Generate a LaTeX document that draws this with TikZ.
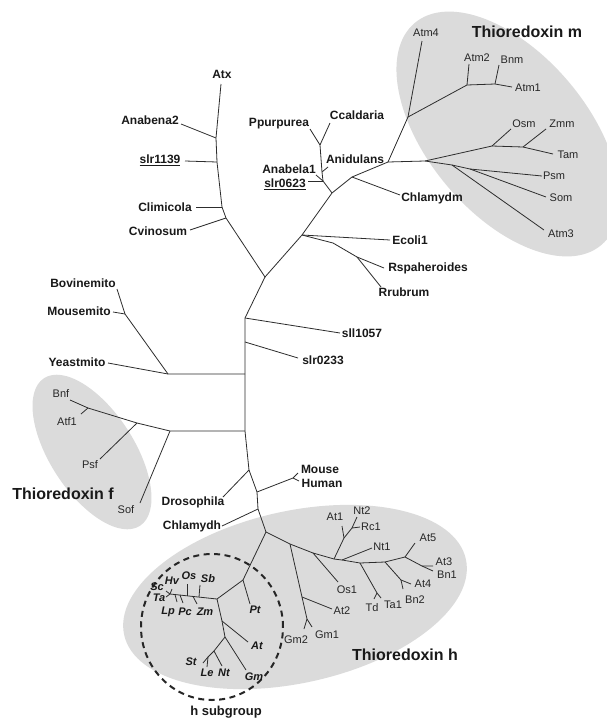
\documentclass[tikz,border=0pt]{standalone}
\usepackage{fontspec}
\setmainfont{Liberation Sans}
\definecolor{grp}{RGB}{219,219,219}
\definecolor{lnc}{RGB}{45,45,45}
\begin{document}
\begin{tikzpicture}[x=1pt,y=-1pt,
  br/.style={draw=lnc, line width=0.8pt},
  lb/.style={font=\fontsize{12}{14}\selectfont\bfseries, inner sep=0pt, text=black!90},
  ln/.style={font=\fontsize{11}{13}\selectfont, inner sep=0pt, text=black!85},
  li/.style={font=\fontsize{11}{13}\selectfont\bfseries\itshape, inner sep=0pt, text=black!90},
  big/.style={font=\fontsize{16}{19}\selectfont\bfseries, inner sep=0pt, text=black!90},
  dsh/.style={draw=black!85, line width=2pt, dash pattern=on 6pt off 4.5pt}]
\useasboundingbox (0,0) rectangle (607,718);
\clip (0,0) rectangle (607,718);
\fill[white] (0,0) rectangle (607,718);
% group shading
\fill[grp, rotate around={-50:(508,134)}] (508,134) ellipse [x radius=145pt, y radius=80pt];
\fill[grp, rotate around={-57:(92,452)}] (92,452) ellipse [x radius=88pt, y radius=42pt];
\fill[grp, rotate around={12.5:(295,597)}] (295,597) ellipse [x radius=175pt, y radius=86pt];
\draw[dsh] (212,627) ellipse [x radius=71pt, y radius=73pt];
% ---------- coordinates ----------
\coordinate (atx) at (221,84);
\coordinate (jana2) at (216,138);
\coordinate (jslr) at (217,162);
\coordinate (jcli) at (222,207);
\coordinate (jcvi) at (226,218);
\coordinate (jA) at (265,277);
\coordinate (jeco) at (302,235);
\coordinate (jcy) at (332,193);
\coordinate (jan2) at (323,181);
\coordinate (jan1) at (322,172);
\coordinate (jpc) at (320,145);
\coordinate (jch) at (352,177);
\coordinate (jm) at (388,162);
\coordinate (tana2) at (181,124);
\coordinate (tslr) at (185,161);
\coordinate (tcli) at (196,207);
\coordinate (tcvi) at (190,230);
\coordinate (tppu) at (310,129);
\coordinate (tcca) at (330,123);
\coordinate (tanid) at (328,167);
\coordinate (tanab) at (316,175);
\coordinate (tslrb) at (308,181);
\coordinate (tchm) at (400,195);
% m group
\coordinate (jm4) at (408,117);
\coordinate (tatm4) at (422,41);
\coordinate (ja2) at (467,85);
\coordinate (tatm2) at (469,64);
\coordinate (jbn) at (495,84);
\coordinate (tbnm) at (499,65);
\coordinate (tatm1) at (512,87);
\coordinate (jmm) at (425,161);
\coordinate (jos) at (492,146);
\coordinate (tosm) at (511,129);
\coordinate (jzm) at (523,147);
\coordinate (tzmm) at (546,129);
\coordinate (ttam) at (553,154);
\coordinate (jp1) at (452,165);
\coordinate (jp2) at (470,169);
\coordinate (tpsm) at (542,176);
\coordinate (tsom) at (546,197);
\coordinate (tatm3) at (544,230);
% Ecoli
\coordinate (teco) at (390,240);
\coordinate (jr1) at (333,243);
\coordinate (jr2) at (357,257);
\coordinate (trsp) at (384,268);
\coordinate (trru) at (381,287);
% left part
\coordinate (js) at (245,318);
\coordinate (tsll) at (340,333);
\coordinate (js2) at (245,342);
\coordinate (tslrc) at (298,358);
\coordinate (jy) at (245,374);
\coordinate (jmito) at (168,374);
\coordinate (tyea) at (108,363);
\coordinate (jbm) at (125,314);
\coordinate (tbov) at (117,289);
\coordinate (tmou) at (113,312);
\coordinate (jf) at (245,431);
\coordinate (jfr) at (170,431);
\coordinate (jpf) at (137,423);
\coordinate (jba) at (88,408);
\coordinate (tbnf) at (70,400);
\coordinate (tatf) at (81,414);
\coordinate (tpsf) at (100,459);
\coordinate (tsof) at (140,503);
\coordinate (jdro) at (249,470);
\coordinate (tdro) at (223,497);
\coordinate (jmh) at (257,492);
\coordinate (jmh2) at (293,478);
\coordinate (tmouse) at (298,473);
\coordinate (thum) at (299,481);
\coordinate (jchh) at (258,509);
\coordinate (tchh) at (222,526);
\coordinate (jh) at (266,532);
% h group
\coordinate (jg) at (290,544);
\coordinate (jat2) at (302,597);
\coordinate (tat2) at (332,609);
\coordinate (jgm) at (307,619);
\coordinate (tgm2) at (304,629);
\coordinate (tgm1) at (312,627);
\coordinate (jo) at (313,553);
\coordinate (tos1) at (338,582);
\coordinate (jat1) at (334,559);
\coordinate (jat1b) at (344,538);
\coordinate (tat1) at (342,526);
\coordinate (jnt2) at (352,528);
\coordinate (tnt2) at (357,517);
\coordinate (trc1) at (360,527);
\coordinate (jn1) at (342,560);
\coordinate (tnt1) at (372,548);
\coordinate (jtd) at (360,563);
\coordinate (jtdt) at (377,593);
\coordinate (ttd) at (374,599);
\coordinate (tta1) at (381,598);
\coordinate (jb2) at (385,562);
\coordinate (jb2b) at (401,580);
\coordinate (tat4) at (411,584);
\coordinate (tbn2) at (403,589);
\coordinate (ja5) at (405,557);
\coordinate (tat5) at (415,543);
\coordinate (ja3) at (422,566);
\coordinate (tat3) at (433,566);
\coordinate (tbn1) at (433,571);
% h subgroup
\coordinate (jpt) at (243,580);
\coordinate (tpt) at (250,604);
\coordinate (jhs) at (217,599);
\coordinate (jhl) at (170,594);
\coordinate (hos1) at (187,595.8);
\coordinate (hos2) at (187,584);
\coordinate (hsb1) at (199,597.1);
\coordinate (hsb2) at (200,585);
\coordinate (hlp1) at (175,594.5);
\coordinate (hlp2) at (177,602);
\coordinate (hpc1) at (180,595.1);
\coordinate (hpc2) at (183,603);
\coordinate (hzm1) at (193,596.4);
\coordinate (hzm2) at (197,604);
\coordinate (thv) at (172,589);
\coordinate (tsc) at (166,591);
\coordinate (tta) at (166,597);
\coordinate (jath) at (222,621);
\coordinate (tath) at (248,642);
\coordinate (jst) at (225,637);
\coordinate (tgmh) at (246,670);
\coordinate (jle) at (214,651);
\coordinate (tnth) at (222,666);
\coordinate (jsl) at (208,657);
\coordinate (tst) at (203,663);
\coordinate (tle) at (207,667);
% ---------- branches ----------
\draw[br] (atx) -- (jana2) -- (jslr) -- (jcli) -- (jcvi) -- (jA) -- (jeco) -- (jcy) -- (jch) -- (jm);
\draw[br] (jana2) -- (tana2);
\draw[br] (jslr) -- (tslr);
\draw[br] (jcli) -- (tcli);
\draw[br] (jcvi) -- (tcvi);
\draw[br] (jcy) -- (jan2) -- (jan1) -- (jpc) -- (tppu);
\draw[br] (jpc) -- (tcca);
\draw[br] (jan1) -- (tanid);
\draw[br] (jan2) -- (tanab);
\draw[br] (jan2) -- (tslrb);
\draw[br] (jch) -- (tchm);
\draw[br] (jm) -- (jm4) -- (tatm4);
\draw[br] (jm4) -- (ja2) -- (jbn) -- (tatm1);
\draw[br] (ja2) -- (tatm2);
\draw[br] (jbn) -- (tbnm);
\draw[br] (jm) -- (jmm) -- (jos) -- (jzm) -- (ttam);
\draw[br] (jos) -- (tosm);
\draw[br] (jzm) -- (tzmm);
\draw[br] (jmm) -- (jp1) -- (jp2) -- (tpsm);
\draw[br] (jp2) -- (tsom);
\draw[br] (jp1) -- (tatm3);
\draw[br] (jeco) -- (teco);
\draw[br] (jeco) -- (jr1) -- (jr2) -- (trsp);
\draw[br] (jr2) -- (trru);
\draw[br] (jA) -- (js) -- (js2) -- (jy) -- (jf) -- (jdro) -- (jmh) -- (jchh) -- (jh);
\draw[br] (js) -- (tsll);
\draw[br] (js2) -- (tslrc);
\draw[br] (jy) -- (jmito) -- (tyea);
\draw[br] (jmito) -- (jbm) -- (tbov);
\draw[br] (jbm) -- (tmou);
\draw[br] (jf) -- (jfr) -- (jpf) -- (jba) -- (tbnf);
\draw[br] (jba) -- (tatf);
\draw[br] (jpf) -- (tpsf);
\draw[br] (jfr) -- (tsof);
\draw[br] (jdro) -- (tdro);
\draw[br] (jmh) -- (jmh2) -- (tmouse);
\draw[br] (jmh2) -- (thum);
\draw[br] (jchh) -- (tchh);
\draw[br] (jh) -- (jg) -- (jo) -- (jat1) -- (jn1) -- (jtd) -- (jb2) -- (ja5) -- (ja3) -- (tat3);
\draw[br] (ja3) -- (tbn1);
\draw[br] (jg) -- (jat2) -- (jgm) -- (tgm2);
\draw[br] (jgm) -- (tgm1);
\draw[br] (jat2) -- (tat2);
\draw[br] (jo) -- (tos1);
\draw[br] (jat1) -- (jat1b) -- (jnt2) -- (tnt2);
\draw[br] (jat1b) -- (tat1);
\draw[br] (jnt2) -- (trc1);
\draw[br] (jn1) -- (tnt1);
\draw[br] (jtd) -- (jtdt) -- (ttd);
\draw[br] (jtdt) -- (tta1);
\draw[br] (jb2) -- (jb2b) -- (tat4);
\draw[br] (jb2b) -- (tbn2);
\draw[br] (ja5) -- (tat5);
\draw[br] (jh) -- (jpt) -- (tpt);
\draw[br] (jpt) -- (jhs) -- (jhl);
\draw[br] (hos1) -- (hos2);
\draw[br] (hsb1) -- (hsb2);
\draw[br] (hlp1) -- (hlp2);
\draw[br] (hpc1) -- (hpc2);
\draw[br] (hzm1) -- (hzm2);
\draw[br] (jhl) -- (thv);
\draw[br] (jhl) -- (tsc);
\draw[br] (jhl) -- (tta);
\draw[br] (jhs) -- (jath) -- (jst) -- (tgmh);
\draw[br] (jath) -- (tath);
\draw[br] (jst) -- (jle) -- (tnth);
\draw[br] (jle) -- (jsl) -- (tst);
\draw[br] (jsl) -- (tle);
% ---------- labels ----------
\node[lb] (Latx) at (222,74) {Atx};
\node[lb] (Lana2) at (150,120) {Anabena2};
\node[lb] (Lslr1139) at (160,160) {\underline{slr1139}};
\node[lb] (Lcli) at (165,207) {Climicola};
\node[lb] (Lcvi) at (158,231) {Cvinosum};
\node[lb] (Lppu) at (279,124) {Ppurpurea};
\node[lb] (Lcca) at (357,115) {Ccaldaria};
\node[lb] (Lanid) at (355,159) {Anidulans};
\node[lb] (Lanab) at (289,169) {Anabela1};
\node[lb] (Lslr0623) at (285,184) {\underline{slr0623}};
\node[lb] (Lchm) at (432,198) {Chlamydm};
\node[lb] (Leco) at (410,240) {Ecoli1};
\node[lb] (Lrsp) at (428,268) {Rspaheroides};
\node[lb] (Lrru) at (404,292) {Rrubrum};
\node[lb] (Lsll) at (362,333) {sll1057};
\node[lb] (Lslr0233) at (323,360) {slr0233};
\node[lb] (Lyea) at (77,362) {Yeastmito};
\node[lb] (Lbov) at (83,283) {Bovinemito};
\node[lb] (Lmou) at (79,311) {Mousemito};
\node[lb] (Ldro) at (193,502) {Drosophila};
\node[lb] (Lmouse) at (320,469) {Mouse};
\node[lb] (Lhum) at (322,483) {Human};
\node[lb] (Lchh) at (192,526) {Chlamydh};
\node[lb, font=\fontsize{13}{15}\selectfont\bfseries] (Lhsub) at (226,712) {h subgroup};
\node[big] (Lthm) at (527,32) {Thioredoxin m};
\node[big] (Lthf) at (63,494) {Thioredoxin f};
\node[big] (Lthh) at (405,655) {Thioredoxin h};
\node[ln] (Latm4) at (426,33) {Atm4};
\node[ln] (Latm2) at (477,58) {Atm2};
\node[ln] (Lbnm) at (512,60) {Bnm};
\node[ln] (Latm1) at (528,88) {Atm1};
\node[ln] (Losm) at (524,124) {Osm};
\node[ln] (Lzmm) at (562,124) {Zmm};
\node[ln] (Ltam) at (568,155) {Tam};
\node[ln] (Lpsm) at (554,176) {Psm};
\node[ln] (Lsom) at (561,198) {Som};
\node[ln] (Latm3) at (561,234) {Atm3};
\node[ln] (Lbnf) at (61,394) {Bnf};
\node[ln] (Latf) at (67,422) {Atf1};
\node[ln] (Lpsf) at (90,465) {Psf};
\node[ln] (Lsof) at (126,510) {Sof};
\node[ln] (Lat1) at (335,517) {At1};
\node[ln] (Lnt2) at (362,511) {Nt2};
\node[ln] (Lrc1) at (371,527) {Rc1};
\node[ln] (Lnt1) at (382,547) {Nt1};
\node[ln] (Lat5) at (428,538) {At5};
\node[ln] (Lat3) at (444,562) {At3};
\node[ln] (Lbn1) at (447,575) {Bn1};
\node[ln] (Lat4) at (423,584) {At4};
\node[ln] (Lbn2) at (415,600) {Bn2};
\node[ln] (Ltd) at (372,608) {Td};
\node[ln] (Lta1) at (393,605) {Ta1};
\node[ln] (Los1) at (347,590) {Os1};
\node[ln] (Lat2) at (342,611) {At2};
\node[ln] (Lgm2) at (296,640) {Gm2};
\node[ln] (Lgm1) at (327,635) {Gm1};
\node[li] (Lhv) at (172,581) {Hv};
\node[li] (Lsc) at (157,587) {Sc};
\node[li] (Lta) at (159,598) {Ta};
\node[li] (Los) at (189,576) {Os};
\node[li] (Lsb) at (208,579) {Sb};
\node[li] (Llp) at (168,612) {Lp};
\node[li] (Lpc) at (185,612) {Pc};
\node[li] (Lzm) at (205,612) {Zm};
\node[li] (Lpt) at (255,610) {Pt};
\node[li] (Lat) at (257,646) {At};
\node[li] (Lst) at (191,662) {St};
\node[li] (Lle) at (207,673) {Le};
\node[li] (Lnt) at (224,673) {Nt};
\node[li] (Lgm) at (254,677) {Gm};
\end{tikzpicture}
\end{document}
